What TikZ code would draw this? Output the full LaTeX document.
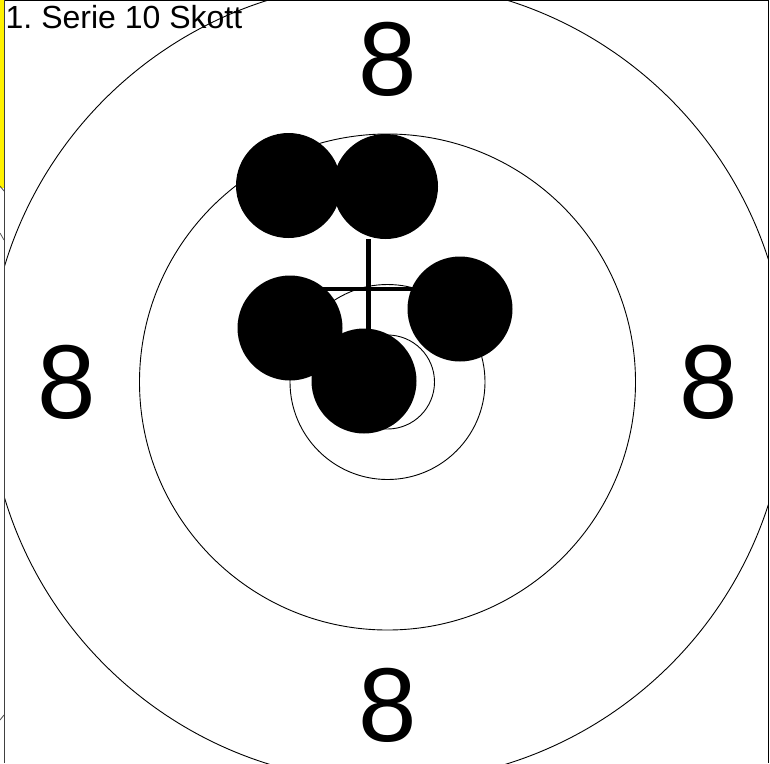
\documentclass[tikz,border=0pt]{standalone}
\usepackage{fontspec}
\setmainfont{Liberation Sans}
\frenchspacing
\begin{document}
\begin{tikzpicture}[x=1pt,y=-1pt,
  ring/.style={draw=black,line width=0.9pt},
  shot/.style={fill=black},
  ringlabel/.style={inner sep=0pt,font=\fontsize{105}{105}\selectfont},
  edge/.style={draw=black!75,line width=1.5pt}]
\useasboundingbox[fill=white] (0,0) rectangle (770,763);
% left strip (neighbouring panel)
\fill[yellow] (0,0) rectangle (3.8,188);
\draw[black!70,line width=0.8pt] (0,186) -- (4,191);
\draw[black!70,line width=0.8pt] (0,233) -- (4,240);
\draw[black!70,line width=0.8pt] (0,720) -- (4,715);
% target
\coordinate (c) at (387.5,382);
\begin{scope}
\clip (5,0) rectangle (768,763);
\draw[ring] (c) circle[radius=400];
\draw[ring] (c) circle[radius=248];
\draw[ring] (c) circle[radius=97.5];
\draw[ring] (c) circle[radius=47];
\node[ringlabel] (ltop) at (387.5,59.5) {8};
\node[ringlabel] (lbot) at (387.5,705.5) {8};
\node[ringlabel] (lleft) at (67,382.5) {8};
\node[ringlabel] (lright) at (709,382.5) {8};
% group centre cross
\coordinate (m) at (368.3,289);
\draw[line width=4.7pt] ([yshift=-50pt]m) -- ([yshift=50pt]m);
\draw[line width=4.7pt] ([xshift=-48pt]m) -- ([xshift=48pt]m);
% shots
\fill[shot] (288.5,185.5) circle[radius=52.5];
\fill[shot] (385.5,186.5) circle[radius=52.5];
\fill[shot] (460,309) circle[radius=52.5];
\fill[shot] (290,328) circle[radius=52.5];
\fill[shot] (364,381) circle[radius=52.5];
\end{scope}
\node[anchor=base west,inner sep=0pt,font=\fontsize{32}{32}\selectfont] (title) at (5.5,28) {1. Serie 10 Skott};
% frame
\draw[edge] (4.5,0) -- (4.5,763);
\draw[black,line width=1pt] (4.5,0.5) -- (768,0.5) -- (768,763);
\end{tikzpicture}
\end{document}
